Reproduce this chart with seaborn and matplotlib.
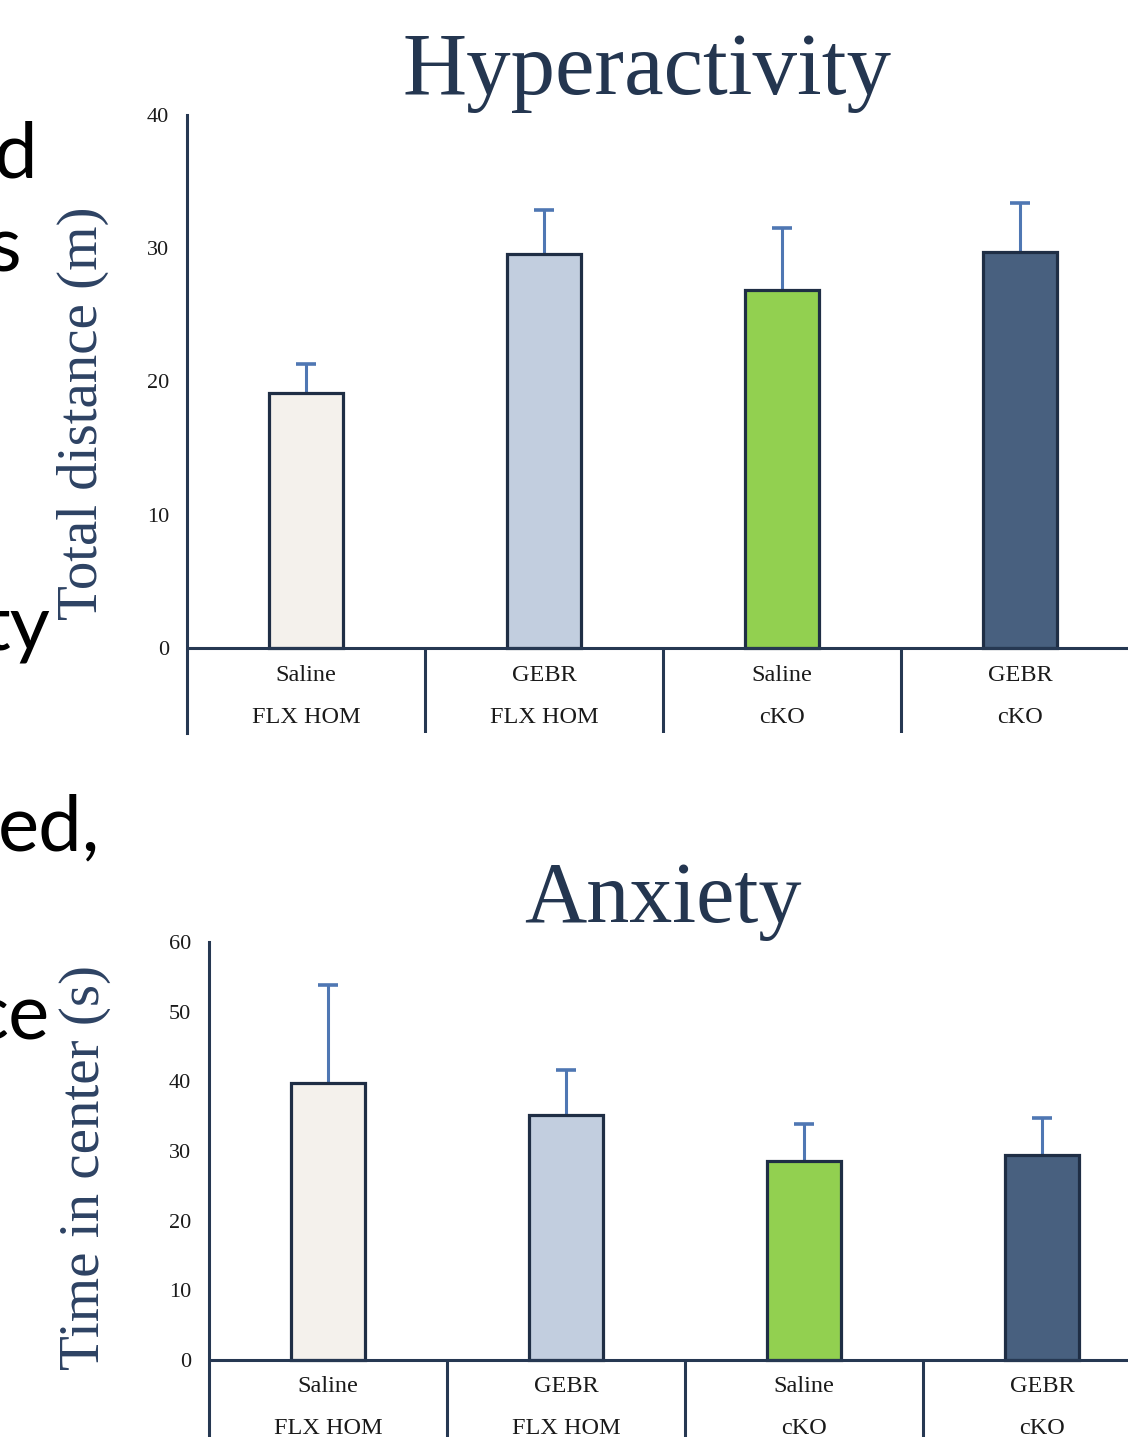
import numpy as np
import pandas as pd
import matplotlib
matplotlib.use("Agg")
import matplotlib.pyplot as plt
import seaborn as sns

# ---------------- data ----------------
treatments = ["Saline", "GEBR", "Saline", "GEBR"]
genotypes = ["FLX HOM", "FLX HOM", "cKO", "cKO"]
bar_colors = ["#f4f1ec", "#c2cedf", "#92d050", "#48607f"]

distance_mean = [19.1, 29.6, 26.9, 29.7]
distance_sem = [2.2, 3.3, 4.6, 3.7]

center_mean = [39.8, 35.2, 28.6, 29.4]
center_sem = [14.0, 6.4, 5.3, 5.3]

titles = ["Hyperactivity", "Anxiety"]
ylabels = ["Total distance (m)", "Time in center (s)"]
side_text = ["d", "s", "ty", "ed,", "ce"]

# ---------------- style ----------------
sns.set_style("white")
plt.rcParams["font.family"] = ["Liberation Serif", "DejaVu Serif"]

NAVY = "#263852"
TITLE_C = "#243650"
EDGE = "#1f2e45"
ERR = "#4f77b3"

W, H = 1128, 1437
fig = plt.figure(figsize=(W / 100, H / 100), dpi=100)


def panel(ax, means, sems, ylo, yhi, ticks, lab_y):
    groups = [f"{t}\n{g}" for t, g in zip(treatments, genotypes)]
    df = pd.DataFrame({"group": groups, "value": means})
    sns.barplot(data=df, x="group", y="value", hue="group",
                palette=bar_colors, saturation=1, legend=False, width=0.31,
                edgecolor=EDGE, linewidth=2.3, ax=ax, zorder=3)
    x = np.arange(len(means))
    m = np.asarray(means)
    e = np.asarray(sems)
    ax.errorbar(x, m, yerr=[np.zeros_like(e), e], fmt="none",
                ecolor=ERR, elinewidth=2.2, capsize=0, zorder=2)
    ax.scatter(x, m + e, marker="_", s=190, linewidths=2.6, color=ERR, zorder=2)
    ax.set_xlim(-0.5, len(means) - 0.5)
    ax.set_ylim(ylo, yhi)
    ax.axhline(0, color=NAVY, lw=2.2, zorder=4)
    ax.vlines(x[:-1] + 0.5, ylo, 0, color=NAVY, lw=2.2, zorder=4)
    for s in ["top", "right", "bottom"]:
        ax.spines[s].set_visible(False)
    ax.spines["left"].set_color(NAVY)
    ax.spines["left"].set_linewidth(2.2)
    ax.set_yticks(ticks)
    ax.set_yticklabels([str(t) for t in ticks])
    ax.tick_params(axis="y", direction="out", length=4, width=1.5,
                   color=NAVY, labelsize=16, pad=9, labelcolor="#1a1a1a")
    ax.tick_params(axis="x", bottom=False, labelbottom=False)
    ax.set_xlabel("")
    ax.set_ylabel("")
    for xi, t, g in zip(x, treatments, genotypes):
        ax.text(xi, lab_y[0], t, ha="center", va="center", fontsize=17.5, color="#1a1a1a")
        ax.text(xi, lab_y[1], g, ha="center", va="center", fontsize=17.5, color="#1a1a1a")
    ax.patch.set_alpha(0)


# top panel: x -0.5..3.5 -> px 187..1139 ; y -6.38..40 -> px 733..115
ax1 = fig.add_axes([187 / W, 1 - 733 / H, 952 / W, 618 / H])
panel(ax1, distance_mean, distance_sem, -6.38, 40, [0, 10, 20, 30, 40], (-2.05, -5.2))

# bottom panel: x -0.5..3.5 -> px 209..1161 ; y -12..60 -> px 1443.6..942
ax2 = fig.add_axes([209 / W, 1 - 1443.6 / H, 952 / W, 501.6 / H])
panel(ax2, center_mean, center_sem, -12, 60, [0, 10, 20, 30, 40, 50, 60], (-3.8, -9.85))

# titles
fig.text(647 / W, 1 - 94 / H, titles[0], ha="center", va="baseline",
         fontsize=64, color=TITLE_C)
fig.text(663 / W, 1 - 922 / H, titles[1], ha="center", va="baseline",
         fontsize=62, color=TITLE_C)

# y labels
fig.text(83 / W, 1 - 413 / H, ylabels[0], rotation=90, ha="center", va="center",
         fontsize=41, color="#2d4263")
fig.text(85 / W, 1 - 1167 / H, ylabels[1], rotation=90, ha="center", va="center",
         fontsize=41, color="#2d4263")

# partial slide text on the left edge
side_pos = [(37, 178), (21, 272), (50, 650), (100, 850), (50, 1040)]
for txt, (px, py) in zip(side_text, side_pos):
    fig.text(px / W, 1 - py / H, txt, ha="right", va="baseline",
             fontsize=56, color="black", family=["Lato", "DejaVu Sans"])

fig.savefig("out.png", dpi=100)
